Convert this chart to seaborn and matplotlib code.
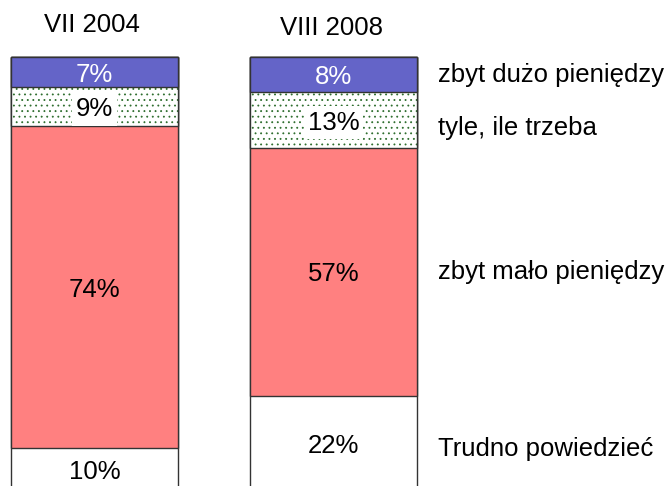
import numpy as np
import pandas as pd
import matplotlib
matplotlib.use('Agg')
import matplotlib.pyplot as plt
import seaborn as sns

# survey waves and answer shares (%), top segment first
surveys = ['VII 2004', 'VIII 2008']
answers = ['zbyt dużo pieniędzy', 'tyle, ile trzeba', 'zbyt mało pieniędzy', 'Trudno powiedzieć']
share_2004 = [7, 9, 74, 10]
share_2008 = [8, 13, 57, 22]

colors = ['#6464c8', 'white', '#ff8080', 'white']
hatches = [None, '...', None, None]
text_colors = ['white', 'black', 'black', 'black']

sns.set_style('white')
plt.rcParams['font.family'] = ['Liberation Sans', 'DejaVu Sans']
plt.rcParams['text.color'] = 'black'
plt.rcParams['hatch.linewidth'] = 0.6
fs = 18.5

df = pd.DataFrame({'survey': np.repeat(surveys, len(answers)),
                   'answer': answers * len(surveys),
                   'share': share_2004 + share_2008})
df['cum'] = df.groupby('survey')['share'].cumsum()
df['mid'] = df['cum'] - df['share'] / 2

fig = plt.figure(figsize=(6.66, 4.86), dpi=100)
ax = fig.add_axes([0, 0, 1, 1])

# stacked bars: draw cumulative totals from the largest down
for i in reversed(range(len(answers))):
    sub = df[df.answer == answers[i]]
    if hatches[i]:
        sns.barplot(data=sub, x='survey', y='cum', order=surveys, width=0.7,
                    color='white', edgecolor='#2e6e2e', linewidth=0,
                    hatch=hatches[i], saturation=1, ax=ax)
        sns.barplot(data=sub, x='survey', y='cum', order=surveys, width=0.7,
                    fill=False, edgecolor='#333333', linewidth=1.0, ax=ax)
    else:
        sns.barplot(data=sub, x='survey', y='cum', order=surveys, width=0.7,
                    color=colors[i], edgecolor='#333333', linewidth=1.0,
                    saturation=1, ax=ax)

# value labels inside segments
for j, s in enumerate(surveys):
    sub = df[df.survey == s].reset_index(drop=True)
    for i, r in sub.iterrows():
        bbox = dict(facecolor='white', edgecolor='none', pad=3) if hatches[i] else None
        ax.text(j, r['mid'] + 0.6, f"{r['share']}%", ha='center', va='center',
                fontsize=fs, color=text_colors[i], bbox=bbox)

# titles above bars
title_y = [-7.4, -6.7]
for j, s in enumerate(surveys):
    ax.text(j - 0.01, title_y[j], s, ha='center', va='center', fontsize=fs, color='black')

# category names to the right of the second bar
label_y = [4.1, 16.4, 49.5, 90.3]
for i, a in enumerate(answers):
    ax.text(1.437, label_y[i], a, ha='left', va='center', fontsize=fs, color='black')

ax.set_xlim(-0.3954, 2.3912)
ax.set_ylim(98.85, -13.13)
ax.axis('off')

fig.savefig('out.png', dpi=100)
